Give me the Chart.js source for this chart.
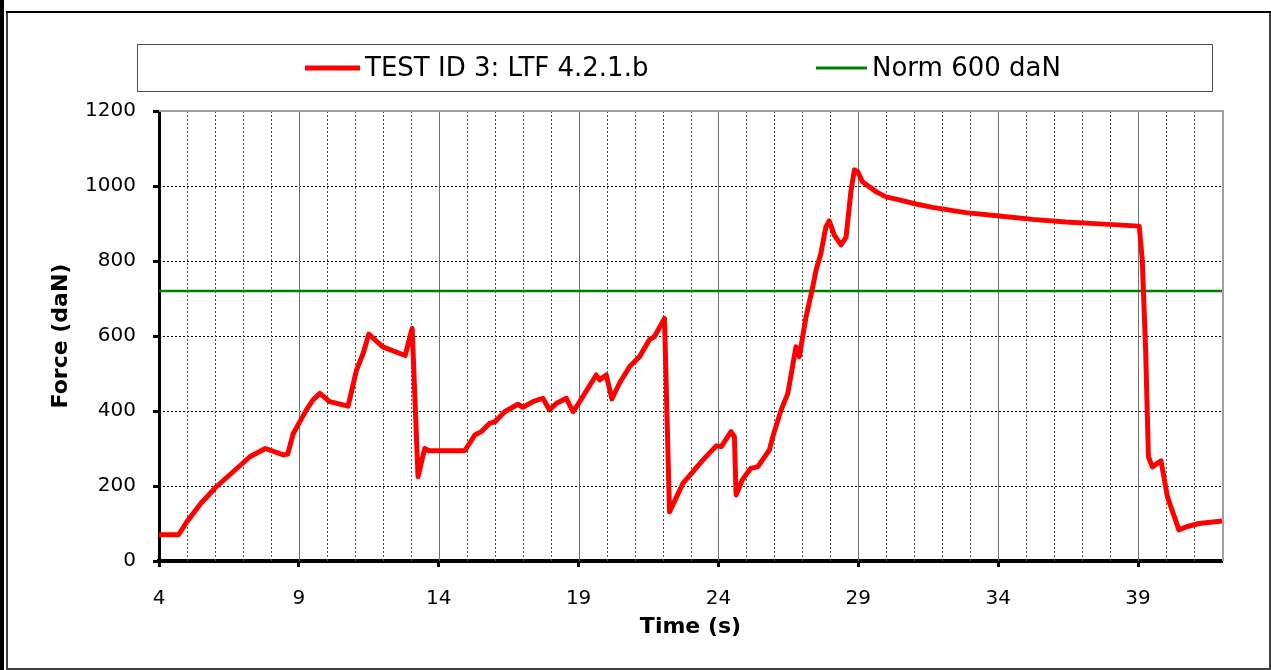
<!DOCTYPE html>
<html>
<head>
<meta charset="utf-8">
<script src="https://cdn.jsdelivr.net/npm/chart.js@4.4.1/dist/chart.umd.min.js"></script>
<style>
  html, body { margin: 0; padding: 0; background: #fff; }
  body { width: 1271px; height: 670px; position: relative; overflow: hidden; }
  #leftbar { position: absolute; left: 0; top: 0; width: 4px; height: 670px; background: #000; }
  #topline { position: absolute; left: 6px; top: 11px; width: 1265px; height: 2px; background: #000; }
  #frame { position: absolute; left: 6px; top: 11px; width: 1261px; height: 655px; border: 2px solid #404040; border-top-color: #000; }
  #wrap { position: absolute; left: 0; top: 0; width: 1271px; height: 670px; }
</style>
</head>
<body>
<div id="leftbar"></div>
<div id="frame"></div>
<div id="topline"></div>
<div id="wrap"><canvas id="forceChart"></canvas></div>
<script>
// time (s) and force (daN)
const timeS = [
  4, 4.7, 5.0, 5.5, 6.05, 6.65, 7.25, 7.8, 8.45, 8.6,
  8.8, 9.27, 9.5, 9.75, 10.1, 10.76, 11.06, 11.3, 11.5, 12.0,
  12.8, 13.05, 13.26, 13.5, 13.65, 14.4, 14.93, 15.29, 15.52, 15.82,
  16.0, 16.36, 16.83, 17.01, 17.37, 17.72, 17.96, 18.2, 18.56, 18.8,
  19.04, 19.63, 19.75, 19.99, 20.19, 20.46, 20.82, 21.18, 21.54, 21.71,
  22.07, 22.25, 22.73, 23.44, 23.92, 24.1, 24.45, 24.57, 24.63, 24.85,
  25.15, 25.4, 25.82, 25.94, 26.24, 26.48, 26.77, 26.89, 27.13, 27.37,
  27.49, 27.66, 27.84, 27.96, 28.14, 28.38, 28.56, 28.74, 28.86, 28.98,
  29.15, 29.39, 29.63, 29.99, 30.46, 31.06, 31.65, 32.84, 34.04, 35.23,
  36.42, 37.61, 39.04, 39.15, 39.27, 39.37, 39.51, 39.82, 40.05, 40.46,
  40.76, 41.18, 42
];
const forceDaN = [
  70, 70, 105, 154, 198, 238, 278, 300, 283, 285,
  340, 403, 429, 447, 425, 413, 509, 554, 605, 571,
  548, 620, 225, 300, 294, 294, 294, 336, 345, 367,
  371, 398, 418, 410, 425, 434, 403, 420, 434, 398,
  425, 496, 483, 496, 432, 474, 518, 545, 591, 598,
  647, 131, 207, 269, 307, 305, 345, 331, 176, 216,
  247, 251, 296, 331, 403, 447, 571, 545, 651, 731,
  776, 820, 891, 907, 869, 843, 863, 989, 1043, 1038,
  1011, 998, 985, 971, 963, 952, 943, 929, 920, 911,
  904, 899, 893, 803, 563, 278, 251, 267, 171, 83,
  92, 100, 107
];
const normTime = [4, 42];
const normForce = [720, 720];
const xTickLabels = [4, 9, 14, 19, 24, 29, 34, 39];
const seriesNames = ["TEST ID 3: LTF 4.2.1.b", "Norm 600 daN"];

const FONT = "'DejaVu Sans', Verdana, sans-serif";

const gridPlugin = {
  id: "gridPlugin",
  beforeDatasetsDraw(chart) {
    const { ctx, chartArea: a, scales: { x, y } } = chart;
    ctx.save();
    ctx.lineWidth = 1;
    // horizontal dotted lines
    ctx.strokeStyle = "#000";
    ctx.setLineDash([2, 2]);
    for (let v = 200; v < 1200; v += 200) {
      const py = Math.round(y.getPixelForValue(v)) + 0.5;
      ctx.beginPath(); ctx.moveTo(a.left, py); ctx.lineTo(a.right, py); ctx.stroke();
    }
    // vertical lines each second, solid at labelled ones
    for (let t = 5; t < 42; t++) {
      const px = Math.round(x.getPixelForValue(t)) + 0.5;
      if ((t - 4) % 5 === 0) {
        ctx.setLineDash([]);
        ctx.strokeStyle = "#707070";
      } else {
        ctx.setLineDash([2, 2]);
        ctx.strokeStyle = "#505050";
      }
      ctx.beginPath(); ctx.moveTo(px, a.top); ctx.lineTo(px, a.bottom); ctx.stroke();
    }
    // plot area top and right edge
    ctx.setLineDash([]);
    ctx.strokeStyle = "#a0a0a0";
    ctx.lineWidth = 2;
    ctx.beginPath();
    ctx.moveTo(a.left, a.top);
    ctx.lineTo(a.right + 1, a.top);
    ctx.lineTo(a.right + 1, a.bottom);
    ctx.stroke();
    ctx.restore();
  },
  afterDraw(chart) {
    // legend box
    const { ctx } = chart;
    ctx.save();
    ctx.strokeStyle = "#505050";
    ctx.lineWidth = 1;
    ctx.strokeRect(137.5, 44.5, 1075, 47);
    const items = [
      { x: 305, len: 55, w: 5 },
      { x: 816, len: 51, w: 3 }
    ];
    ctx.font = "26px " + FONT;
    ctx.textBaseline = "middle";
    ctx.fillStyle = "#000";
    chart.data.datasets.forEach((ds, i) => {
      const it = items[i];
      ctx.strokeStyle = ds.borderColor;
      ctx.lineWidth = it.w;
      ctx.beginPath(); ctx.moveTo(it.x, 68); ctx.lineTo(it.x + it.len, 68); ctx.stroke();
      ctx.fillText(ds.label, it.x + it.len + 5, 69);
    });
    ctx.restore();
  }
};

new Chart(document.getElementById("forceChart"), {
  type: "line",
  data: {
    datasets: [
      {
        label: seriesNames[0],
        data: timeS.map((t, i) => ({ x: t, y: forceDaN[i] })),
        borderColor: "#ff0000",
        borderWidth: 5,
        pointRadius: 0,
        tension: 0,
        borderJoinStyle: "round"
      },
      {
        label: seriesNames[1],
        data: normTime.map((t, i) => ({ x: t, y: normForce[i] })),
        borderColor: "#008000",
        borderWidth: 2.5,
        pointRadius: 0,
        tension: 0
      }
    ]
  },
  options: {
    responsive: true,
    maintainAspectRatio: false,
    animation: false,
    layout: { padding: { left: 40, right: 49, top: 111, bottom: 30 } },
    plugins: {
      legend: { display: false },
      tooltip: { enabled: false }
    },
    scales: {
      x: {
        type: "linear",
        min: 4,
        max: 42,
        afterBuildTicks: (scale) => {
          scale.ticks = xTickLabels.map((v) => ({ value: v }));
        },
        afterFit: (scale) => { scale.height = 79; },
        border: { color: "#000", width: 4 },
        grid: { drawOnChartArea: false, drawTicks: true, tickLength: 6, tickWidth: 3, tickColor: "#000" },
        ticks: { color: "#000", font: { family: FONT, size: 20 }, padding: 20, maxRotation: 0, autoSkip: false,
                 callback: (v) => String(v) },
        title: { display: true, text: "Time (s)", color: "#000", font: { family: FONT, size: 22, weight: "bold" }, padding: { top: 0, bottom: 0 } }
      },
      y: {
        min: 0,
        max: 1200,
        afterFit: (scale) => { scale.width = 119; },
        border: { color: "#000", width: 3 },
        grid: { drawOnChartArea: false, drawTicks: true, tickLength: 6, tickWidth: 3, tickColor: "#000" },
        ticks: { stepSize: 200, color: "#000", font: { family: FONT, size: 20 }, padding: 17,
                 callback: (v) => String(v) },
        title: { display: true, text: "Force (daN)", color: "#000", font: { family: FONT, size: 22, weight: "bold" }, padding: { top: 8, bottom: 0 } }
      }
    }
  },
  plugins: [gridPlugin]
});
</script>
</body>
</html>
